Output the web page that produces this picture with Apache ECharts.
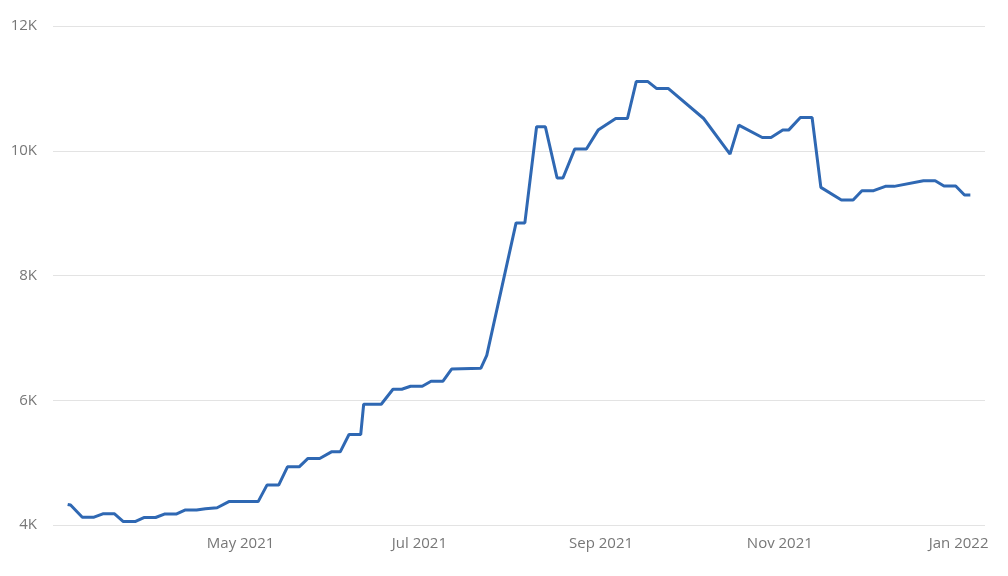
<!DOCTYPE html>
<html>
<head>
<meta charset="utf-8">
<script src="https://cdn.jsdelivr.net/npm/echarts@6/dist/echarts.min.js"></script>
<style>
  html, body { margin: 0; padding: 0; background: #fff; }
  #chart { width: 1008px; height: 576px; }
</style>
</head>
<body>
<div id="chart"></div>
<script>
const dates = ['2021-03-03','2021-03-04','2021-03-08','2021-03-12','2021-03-15','2021-03-19','2021-03-22','2021-03-26','2021-03-29','2021-04-02','2021-04-05','2021-04-09','2021-04-12','2021-04-16','2021-04-19','2021-04-23','2021-04-27','2021-05-07','2021-05-10','2021-05-14','2021-05-17','2021-05-21','2021-05-24','2021-05-28','2021-06-01','2021-06-04','2021-06-07','2021-06-11','2021-06-12','2021-06-18','2021-06-22','2021-06-25','2021-06-28','2021-07-02','2021-07-05','2021-07-09','2021-07-12','2021-07-22','2021-07-24','2021-08-03','2021-08-06','2021-08-10','2021-08-13','2021-08-17','2021-08-19','2021-08-23','2021-08-27','2021-08-31','2021-09-06','2021-09-10','2021-09-13','2021-09-17','2021-09-20','2021-09-24','2021-10-06','2021-10-15','2021-10-18','2021-10-26','2021-10-29','2021-11-02','2021-11-04','2021-11-08','2021-11-12','2021-11-15','2021-11-22','2021-11-26','2021-11-29','2021-12-03','2021-12-07','2021-12-10','2021-12-20','2021-12-24','2021-12-27','2021-12-31','2022-01-03','2022-01-05'];
const values = [4330,4320,4125,4125,4180,4180,4055,4055,4120,4120,4175,4175,4240,4240,4262,4277,4375,4375,4640,4640,4933,4933,5067,5067,5173,5173,5451,5451,5936,5936,6176,6176,6224,6224,6304,6304,6500,6515,6720,8843,8843,10384,10384,9563,9563,10027,10027,10331,10517,10517,11109,11109,10997,10997,10517,9947,10411,10213,10213,10331,10331,10533,10533,9413,9211,9211,9360,9360,9429,9429,9520,9520,9435,9435,9291,9291];
const yTicks = [4000, 6000, 8000, 10000, 12000];
const monthNames = ['Jan','Feb','Mar','Apr','May','Jun','Jul','Aug','Sep','Oct','Nov','Dec'];
const shownMonths = [0, 4, 6, 8, 10];

const chart = echarts.init(document.getElementById('chart'));
chart.setOption({
  animation: false,
  grid: { left: 53, right: 23, top: 26, bottom: 51 },
  xAxis: {
    type: 'time',
    min: '2021-02-26',
    max: '2022-01-10',
    splitNumber: 5,
    axisLine: { show: false },
    axisTick: { show: false },
    splitLine: { show: false },
    axisLabel: {
      color: '#777',
      fontSize: 15,
      fontFamily: 'Open Sans',
      margin: 11,
      showMinLabel: true,
      formatter: function (val) {
        const d = new Date(val);
        if (d.getDate() !== 1 || shownMonths.indexOf(d.getMonth()) < 0) return '';
        return monthNames[d.getMonth()] + ' ' + d.getFullYear();
      }
    }
  },
  yAxis: {
    type: 'value',
    min: yTicks[0],
    max: yTicks[yTicks.length - 1],
    interval: 2000,
    axisLine: { show: false },
    axisTick: { show: false },
    splitLine: { lineStyle: { color: '#e3e3e3', width: 1 } },
    axisLabel: {
      color: '#777',
      fontSize: 15,
      fontFamily: 'Open Sans',
      margin: 16,
      formatter: function (v) { return (v / 1000) + 'K'; }
    }
  },
  series: [{
    type: 'line',
    data: dates.map((d, i) => [d, values[i]]),
    showSymbol: false,
    lineStyle: { color: '#2f68b3', width: 3 },
    itemStyle: { color: '#2f68b3' }
  }]
});
</script>
</body>
</html>
